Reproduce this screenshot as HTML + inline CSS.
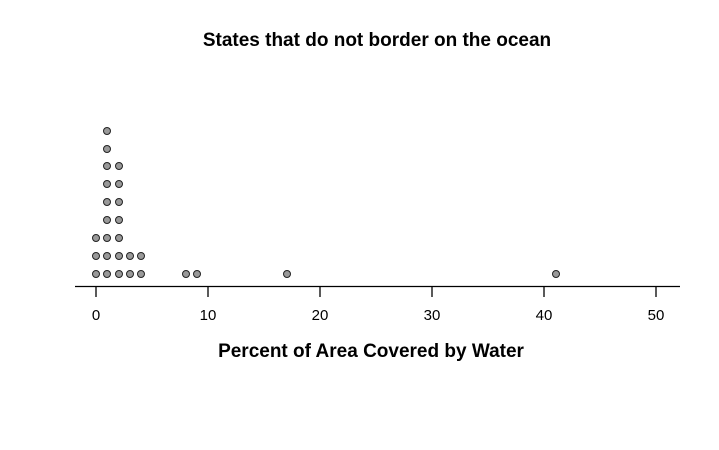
<!DOCTYPE html>
<html><head><style>body{margin:0;background:#fff}svg{display:block}</style></head><body>
<svg width="719" height="450" xmlns="http://www.w3.org/2000/svg" font-family="Liberation Sans, Arial, sans-serif">
<text x="377" y="46" text-anchor="middle" font-size="19" font-weight="bold">States that do not border on the ocean</text>
<line x1="75" y1="286.5" x2="680" y2="286.5" stroke="#000" stroke-width="1.3"/>
<g stroke="#000" stroke-width="1.3">
<line x1="96" y1="287" x2="96" y2="297"/><line x1="208" y1="287" x2="208" y2="297"/><line x1="320" y1="287" x2="320" y2="297"/><line x1="432" y1="287" x2="432" y2="297"/><line x1="544" y1="287" x2="544" y2="297"/><line x1="656" y1="287" x2="656" y2="297"/>
</g>
<g font-size="15" text-anchor="middle">
<text x="96" y="320">0</text><text x="208" y="320">10</text><text x="320" y="320">20</text><text x="432" y="320">30</text><text x="544" y="320">40</text><text x="656" y="320">50</text>
</g>
<text x="371" y="357" text-anchor="middle" font-size="19" font-weight="bold">Percent of Area Covered by Water</text>
<g fill="#999" stroke="#222" stroke-width="1">
<circle cx="96" cy="274" r="3.5"/><circle cx="107" cy="274" r="3.5"/><circle cx="119" cy="274" r="3.5"/><circle cx="130" cy="274" r="3.5"/><circle cx="141" cy="274" r="3.5"/><circle cx="186" cy="274" r="3.5"/><circle cx="197" cy="274" r="3.5"/><circle cx="287" cy="274" r="3.5"/><circle cx="556" cy="274" r="3.5"/>
<circle cx="96" cy="256" r="3.5"/><circle cx="107" cy="256" r="3.5"/><circle cx="119" cy="256" r="3.5"/><circle cx="130" cy="256" r="3.5"/><circle cx="141" cy="256" r="3.5"/>
<circle cx="96" cy="238" r="3.5"/><circle cx="107" cy="238" r="3.5"/><circle cx="119" cy="238" r="3.5"/>
<circle cx="107" cy="220" r="3.5"/><circle cx="119" cy="220" r="3.5"/>
<circle cx="107" cy="202" r="3.5"/><circle cx="119" cy="202" r="3.5"/>
<circle cx="107" cy="184" r="3.5"/><circle cx="119" cy="184" r="3.5"/>
<circle cx="107" cy="166" r="3.5"/><circle cx="119" cy="166" r="3.5"/>
<circle cx="107" cy="149" r="3.5"/>
<circle cx="107" cy="131" r="3.5"/>
</g>
</svg>
</body></html>
